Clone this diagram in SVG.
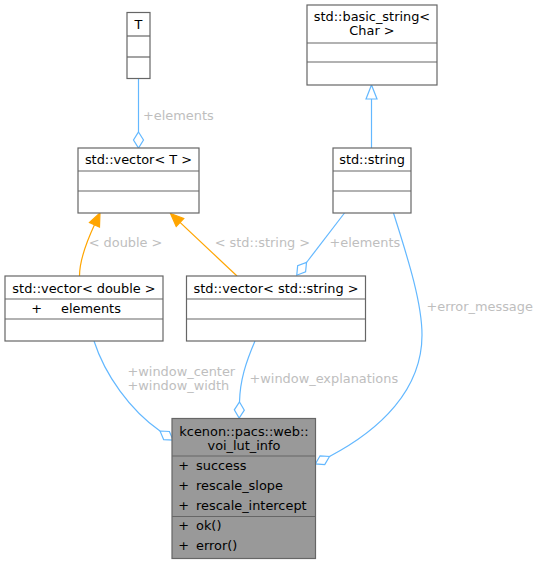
<svg xmlns="http://www.w3.org/2000/svg" width="541" height="564" viewBox="0 0 541 564">
<style>
text { font-family: "DejaVu Sans", "Liberation Sans", sans-serif; font-size: 12.9px; fill: #000000; }
.box { fill: #ffffff; stroke: #666666; stroke-width: 1.2; }
.main { fill: #999999; stroke: #666666; stroke-width: 1.2; }
.div { stroke: #666666; stroke-width: 1.2; fill: none; }
.c { text-anchor: middle; }
.lbl { fill: #bebebe; }
.blue { fill: none; stroke: #63b8ff; stroke-width: 1.2; }
.orange { fill: none; stroke: #ffa500; stroke-width: 1.2; }
</style>
<defs>
<marker id="diamond" markerUnits="userSpaceOnUse" orient="auto" markerWidth="20" markerHeight="20" refX="0" refY="0" overflow="visible">
<path d="M0,0 L8,-5 L16,0 L8,5 Z" fill="#ffffff" stroke="#63b8ff" stroke-width="1.2"/>
</marker>
<marker id="hollow" markerUnits="userSpaceOnUse" orient="auto" markerWidth="20" markerHeight="20" refX="0" refY="0" overflow="visible">
<path d="M0,-5.5 L14,0 L0,5.5 Z" fill="#ffffff" stroke="#63b8ff" stroke-width="1.2"/>
</marker>
<marker id="filled" markerUnits="userSpaceOnUse" orient="auto" markerWidth="20" markerHeight="20" refX="0" refY="0" overflow="visible">
<path d="M0,-5.5 L13,0 L0,5.5 Z" fill="#ffa500" stroke="#ffa500" stroke-width="1.2"/>
</marker>
</defs>

<g id="connectors">
<path class="blue" d="M138.5,78 L138.5,132" marker-end="url(#diamond)"/>
<text class="lbl" x="143" y="119.5">+elements</text>
<path class="blue" d="M371.5,148 L371.5,99" marker-end="url(#hollow)"/>
<path class="orange" d="M79.5,276 C79.5,258 88.6,237.5 94.5,224.8" marker-end="url(#filled)"/>
<text class="lbl" x="88.7" y="247">&lt; double &gt;</text>
<path class="orange" d="M237,276 L180,222.4" marker-end="url(#filled)"/>
<text class="lbl" x="214.7" y="247">&lt; std::string &gt;</text>
<path class="blue" d="M344.5,213 L306.5,262.5" marker-end="url(#diamond)"/>
<text class="lbl" x="329.5" y="247">+elements</text>
<path class="blue" d="M393.5,213 C405,250 422,300 422,335 C422,390 380,430 329.5,456.5" marker-end="url(#diamond)"/>
<text class="lbl" x="426.5" y="311">+error_message</text>
<path class="blue" d="M94,341 C105,375 130,410 160,431" marker-end="url(#diamond)"/>
<text class="lbl" x="127.5" y="375.5">+window_center</text>
<text class="lbl" x="127.5" y="390">+window_width</text>
<path class="blue" d="M255,341 C246,362 240,380 239.5,402" marker-end="url(#diamond)"/>
<text class="lbl" x="249.5" y="383">+window_explanations</text>
</g>

<g id="node-T">
<rect class="box" x="127" y="12.5" width="23" height="66"/>
<line class="div" x1="127" y1="36" x2="150" y2="36"/>
<line class="div" x1="127" y1="57" x2="150" y2="57"/>
<text class="c" x="138.5" y="29">T</text>
</g>

<g id="node-vector-T">
<rect class="box" x="78" y="148" width="121" height="65"/>
<line class="div" x1="78" y1="171" x2="199" y2="171"/>
<line class="div" x1="78" y1="191" x2="199" y2="191"/>
<text class="c" x="138.5" y="164">std::vector&lt; T &gt;</text>
</g>

<g id="node-basic-string">
<rect class="box" x="307" y="5" width="130" height="80"/>
<line class="div" x1="307" y1="43" x2="437" y2="43"/>
<line class="div" x1="307" y1="62" x2="437" y2="62"/>
<text class="c" x="372" y="20.5">std::basic_string&lt;</text>
<text class="c" x="372" y="35">Char &gt;</text>
</g>

<g id="node-string">
<rect class="box" x="333" y="148" width="78" height="65"/>
<line class="div" x1="333" y1="171" x2="411" y2="171"/>
<line class="div" x1="333" y1="191" x2="411" y2="191"/>
<text class="c" x="372" y="164">std::string</text>
</g>

<g id="node-vector-double">
<rect class="box" x="5" y="276" width="158" height="65"/>
<line class="div" x1="5" y1="299" x2="163" y2="299"/>
<line class="div" x1="5" y1="319" x2="163" y2="319"/>
<text class="c" x="84" y="293">std::vector&lt; double &gt;</text>
<text x="31.2" y="312.5">+</text>
<text x="61" y="312.5">elements</text>
</g>

<g id="node-vector-string">
<rect class="box" x="186.5" y="276" width="179" height="65"/>
<line class="div" x1="186.5" y1="299" x2="365.5" y2="299"/>
<line class="div" x1="186.5" y1="319" x2="365.5" y2="319"/>
<text class="c" x="276" y="293">std::vector&lt; std::string &gt;</text>
</g>

<g id="node-voi-lut-info">
<rect class="main" x="172" y="418.5" width="143.5" height="140"/>
<line class="div" x1="172" y1="456" x2="315.5" y2="456"/>
<line class="div" x1="172" y1="516.5" x2="315.5" y2="516.5"/>
<text class="c" x="244" y="436">kcenon::pacs::web::</text>
<text class="c" x="244" y="450">voi_lut_info</text>
<text x="178.2" y="470">+</text>
<text x="196" y="470">success</text>
<text x="178.2" y="490">+</text>
<text x="196" y="490">rescale_slope</text>
<text x="178.2" y="510">+</text>
<text x="196" y="510">rescale_intercept</text>
<text x="178.2" y="530">+</text>
<text x="196" y="530">ok()</text>
<text x="178.2" y="550">+</text>
<text x="196" y="550">error()</text>
</g>
</svg>
